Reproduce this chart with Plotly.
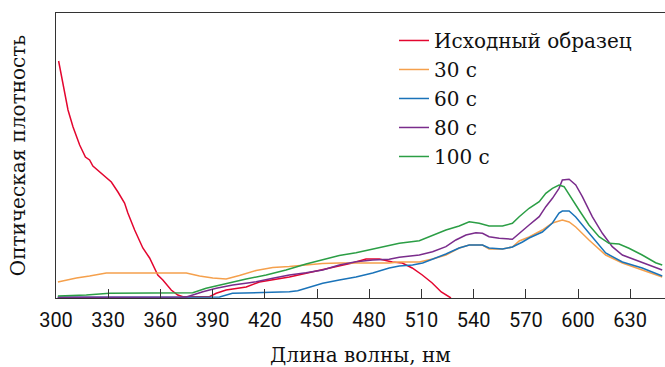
import plotly.graph_objects as go

# Wavelength (nm) and optical density (arb. units)
x_initial = [301.5, 304.0, 306.9, 309.8, 313.6, 316.9, 319.3, 321.2, 325.1, 328.9, 331.8, 335.6,
             339.4, 341.3, 345.2, 349.9, 353.8, 358.5, 361.4, 366.2, 370.0, 372.9, 388.2, 392.1,
             397.8, 409.3, 416.9, 434.1, 453.1, 470.3, 478.2, 485.8, 493.3, 499.0, 504.7, 510.5,
             516.2, 521.4, 527.0]
y_initial = [2.37, 2.15, 1.88, 1.71, 1.53, 1.41, 1.38, 1.32, 1.26, 1.20, 1.16, 1.06,
             0.95, 0.85, 0.68, 0.50, 0.40, 0.23, 0.18, 0.08, 0.03, 0.013, 0.013, 0.047,
             0.08, 0.11, 0.16, 0.21, 0.28, 0.35, 0.39, 0.39, 0.36, 0.35, 0.30, 0.23,
             0.15, 0.06, 0.0]

x_30 = [301.1, 306.0, 311.7, 319.3, 328.9, 374.9, 382.5, 390.1, 397.8, 405.4, 415.0, 424.6,
        434.1, 453.1, 462.8, 491.5, 497.3, 508.8, 516.4, 524.1, 531.7, 537.5, 545.1, 548.9,
        556.6, 562.3, 566.2, 571.9, 579.5, 585.3, 591.0, 594.9, 598.7, 606.3, 615.9, 625.5,
        636.9, 648.4]
y_30 = [0.16, 0.18, 0.20, 0.22, 0.25, 0.25, 0.22, 0.20, 0.19, 0.225, 0.275, 0.305,
        0.315, 0.345, 0.35, 0.35, 0.36, 0.36, 0.39, 0.43, 0.50, 0.53, 0.53, 0.49,
        0.49, 0.51, 0.57, 0.61, 0.68, 0.75, 0.78, 0.76, 0.71, 0.58, 0.43, 0.35,
        0.28, 0.21]

x_60 = [301.0, 394.0, 401.4, 420.8, 434.1, 438.9, 443.7, 453.3, 462.8, 472.4, 482.0, 491.5,
        497.3, 504.9, 510.7, 518.3, 524.1, 531.7, 537.5, 545.1, 548.9, 556.6, 562.3, 568.1,
        571.9, 579.5, 585.3, 589.1, 591.0, 594.9, 598.7, 606.3, 615.9, 625.5, 636.9, 648.4]
y_60 = [0.007, 0.01, 0.047, 0.055, 0.063, 0.073, 0.097, 0.147, 0.18, 0.21, 0.25, 0.30,
        0.32, 0.33, 0.35, 0.40, 0.44, 0.50, 0.53, 0.53, 0.50, 0.49, 0.51, 0.56,
        0.60, 0.66, 0.75, 0.85, 0.87, 0.87, 0.81, 0.65, 0.45, 0.36, 0.30, 0.22]

x_80 = [301.0, 374.9, 378.6, 384.4, 392.1, 401.6, 411.2, 415.0, 424.6, 434.1, 443.7, 453.3,
        462.8, 472.4, 482.0, 491.5, 497.3, 508.8, 516.4, 524.1, 529.8, 535.6, 541.3, 545.1,
        548.9, 554.7, 562.3, 566.2, 571.9, 577.7, 581.5, 585.3, 589.1, 591.0, 594.9, 598.7,
        602.5, 608.2, 614.0, 619.7, 625.5, 633.1, 642.7, 648.4]
y_80 = [0.007, 0.01, 0.03, 0.063, 0.097, 0.13, 0.153, 0.163, 0.197, 0.23, 0.253, 0.28,
        0.33, 0.363, 0.38, 0.387, 0.407, 0.43, 0.463, 0.513, 0.58, 0.63, 0.653, 0.647,
        0.613, 0.597, 0.587, 0.647, 0.73, 0.813, 0.913, 0.997, 1.097, 1.18, 1.187, 1.13,
        1.013, 0.813, 0.647, 0.513, 0.43, 0.38, 0.313, 0.28]

x_100 = [301.1, 317.4, 330.8, 353.8, 378.6, 386.3, 397.8, 409.3, 420.8, 432.2, 443.7, 453.3,
         462.8, 472.4, 482.0, 491.5, 497.3, 508.8, 516.4, 524.1, 531.7, 537.5, 543.2, 548.9,
         556.6, 562.3, 566.2, 571.9, 577.7, 581.5, 585.3, 589.1, 592.0, 594.9, 600.6, 606.3,
         612.1, 617.8, 623.6, 629.3, 636.9, 644.6, 648.4]
y_100 = [0.02, 0.03, 0.047, 0.053, 0.053, 0.097, 0.147, 0.19, 0.23, 0.28, 0.34, 0.38,
         0.425, 0.453, 0.487, 0.525, 0.547, 0.573, 0.63, 0.68, 0.72, 0.763, 0.747, 0.72,
         0.72, 0.747, 0.813, 0.897, 0.963, 1.047, 1.097, 1.13, 1.113, 1.03, 0.88, 0.73,
         0.613, 0.547, 0.54, 0.497, 0.43, 0.353, 0.33]

series_names = ["Исходный образец", "30 с", "60 с", "80 с", "100 с"]
series_colors = ["#e3062f", "#f5a04c", "#1a73b9", "#7a2c8c", "#2b9e45"]
x_ticks = [300, 330, 360, 390, 420, 450, 480, 510, 540, 570, 600, 630]

xs = [x_initial, x_30, x_60, x_80, x_100]
ys = [y_initial, y_30, y_60, y_80, y_100]

fig = go.Figure()
for name, color, x, y in zip(series_names, series_colors, xs, ys):
    fig.add_trace(go.Scatter(x=x, y=y, mode="lines", name=name,
                             line=dict(color=color, width=1.5)))

serif = "DejaVu Serif"
fig.update_layout(
    width=665, height=367,
    margin=dict(l=56, r=0, t=13, b=69),
    paper_bgcolor="white", plot_bgcolor="white",
    showlegend=True,
    legend=dict(x=0.555, y=0.972, xanchor="left", yanchor="top",
                font=dict(family=serif, size=20, color="#111"),
                bgcolor="rgba(0,0,0,0)", itemwidth=30),
    xaxis=dict(range=[300, 650], tickvals=x_ticks, ticks="inside", ticklen=9,
               tickcolor="#333", tickwidth=1, showline=True, linecolor="#333",
               linewidth=1, mirror=True, showgrid=False, zeroline=False,
               automargin=False, ticklabelstandoff=4,
               tickfont=dict(family="Roboto", size=20, color="#111"),
               title=dict(text="Длина волны, нм", font=dict(family=serif, size=20, color="#111"),
                          standoff=20)),
    yaxis=dict(range=[0, 2.85], showticklabels=False, ticks="", showline=True,
               linecolor="#333", linewidth=1, showgrid=False, zeroline=False,
               automargin=False,
               title=dict(text="Оптическая плотность", font=dict(family=serif, size=20, color="#111"),
                          standoff=24)),
)

fig.write_html("out.html", config={"displayModeBar": False},
               post_script="document.body.style.margin='0';")
